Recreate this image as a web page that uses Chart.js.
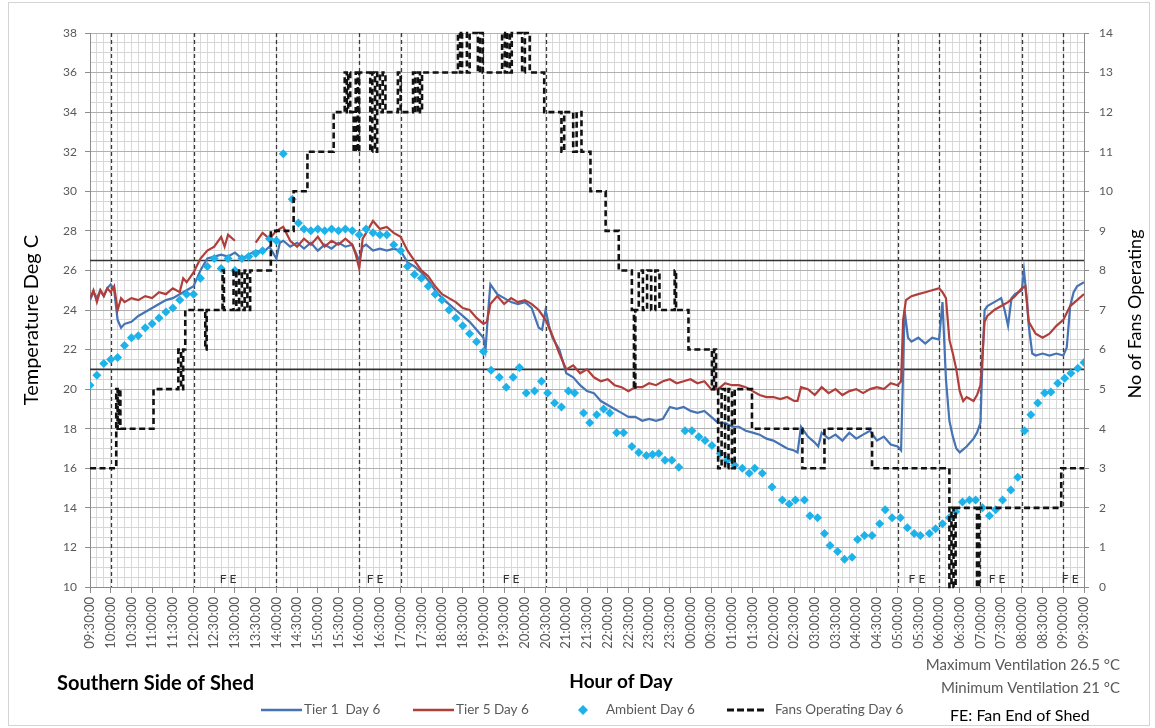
<!DOCTYPE html>
<html><head><meta charset="utf-8">
<script src="https://cdn.jsdelivr.net/npm/chart.js@4.4.1/dist/chart.umd.min.js"></script>
<style>html,body{margin:0;padding:0;background:#fff;}#wrap{width:1155px;height:728px;}</style>
</head><body><div id="wrap"><canvas id="c" width="1155" height="728"></canvas></div>
<script>
// ---------- DATA ----------
const xTickLabels = ["09:30:00","10:00:00","10:30:00","11:00:00","11:30:00","12:00:00","12:30:00","13:00:00","13:30:00","14:00:00","14:30:00","15:00:00","15:30:00","16:00:00","16:30:00","17:00:00","17:30:00","18:00:00","18:30:00","19:00:00","19:30:00","20:00:00","20:30:00","21:00:00","21:30:00","22:00:00","22:30:00","23:00:00","23:30:00","00:00:00","00:30:00","01:00:00","01:30:00","02:00:00","02:30:00","03:00:00","03:30:00","04:00:00","04:30:00","05:00:00","05:30:00","06:00:00","06:30:00","07:00:00","07:30:00","08:00:00","08:30:00","09:00:00","09:30:00"];
const leftTicks = [10,12,14,16,18,20,22,24,26,28,30,32,34,36,38];
const rightTicks = [0,1,2,3,4,5,6,7,8,9,10,11,12,13,14];
const ventMax = 26.5;
const ventMin = 21;
const markerTimes = ["10:00","12:00","14:00","16:00","17:00","19:00","20:30","05:00","06:00","07:00","08:00","09:00"];
const feTimes = ["12:50","16:23","19:40","05:28","07:24","09:10"];

const tier1 = [["09:30",24.5],["09:35",24.9],["09:40",24.6],["09:45",25.0],["09:50",24.7],["09:55",25.1],["10:00",25.3],["10:05",25.0],["10:10",23.5],["10:15",23.1],["10:20",23.3],["10:30",23.4],["10:40",23.7],["10:50",23.9],["11:00",24.1],["11:10",24.3],["11:20",24.5],["11:30",24.6],["11:40",24.8],["11:50",25.0],["12:00",25.2],["12:10",26.0],["12:20",26.6],["12:30",26.7],["12:40",26.8],["12:50",26.7],["13:00",26.9],["13:10",26.6],["13:20",26.8],["13:30",27.0],["13:40",26.9],["13:50",27.2],["14:00",26.6],["14:05",27.4],["14:10",27.5],["14:20",27.2],["14:30",27.4],["14:40",27.1],["14:50",27.4],["15:00",27.0],["15:10",27.3],["15:20",27.1],["15:30",27.4],["15:40",27.2],["15:50",27.3],["15:55",26.9],["16:00",26.5],["16:05",27.2],["16:10",27.3],["16:20",27.0],["16:30",27.1],["16:40",27.0],["16:50",27.1],["17:00",27.0],["17:10",26.4],["17:20",26.2],["17:30",25.9],["17:40",25.5],["17:50",25.0],["18:00",24.6],["18:10",24.3],["18:20",24.0],["18:30",23.7],["18:40",23.4],["18:50",23.0],["19:00",22.6],["19:03",22.0],["19:07",24.0],["19:10",25.3],["19:20",24.8],["19:30",24.6],["19:40",24.4],["19:50",24.3],["20:00",24.4],["20:10",24.1],["20:20",23.1],["20:25",23.0],["20:30",24.0],["20:35",23.2],["20:40",22.6],["20:50",22.0],["21:00",20.8],["21:10",20.6],["21:20",20.2],["21:30",19.9],["21:40",19.8],["21:50",19.4],["22:00",19.2],["22:10",19.0],["22:20",18.8],["22:30",18.6],["22:40",18.6],["22:50",18.4],["23:00",18.5],["23:10",18.4],["23:20",18.5],["23:30",19.1],["23:40",19.0],["23:50",19.1],["00:00",18.9],["00:10",18.8],["00:20",18.9],["00:30",18.6],["00:40",18.3],["00:50",18.3],["01:00",18.1],["01:10",18.1],["01:20",17.9],["01:30",17.8],["01:40",17.7],["01:50",17.5],["02:00",17.4],["02:10",17.2],["02:20",17.0],["02:30",16.9],["02:35",16.8],["02:40",18.1],["02:50",17.6],["03:00",17.3],["03:05",17.1],["03:10",17.8],["03:20",17.5],["03:30",17.7],["03:40",17.4],["03:50",17.8],["04:00",17.5],["04:10",17.7],["04:20",17.9],["04:30",17.4],["04:40",17.6],["04:50",17.2],["05:00",17.1],["05:05",16.9],["05:08",21.0],["05:10",24.0],["05:15",22.6],["05:20",22.4],["05:30",22.6],["05:40",22.3],["05:50",22.6],["06:00",22.5],["06:05",24.4],["06:10",20.5],["06:15",18.4],["06:20",17.6],["06:25",17.0],["06:30",16.8],["06:40",17.1],["06:50",17.5],["06:55",17.8],["07:00",18.3],["07:03",21.5],["07:06",24.0],["07:10",24.2],["07:20",24.4],["07:30",24.6],["07:35",24.0],["07:40",23.2],["07:45",24.6],["07:50",24.8],["08:00",25.0],["08:03",26.0],["08:07",24.6],["08:10",23.2],["08:15",21.8],["08:20",21.7],["08:30",21.8],["08:40",21.7],["08:50",21.8],["09:00",21.7],["09:05",22.1],["09:10",24.2],["09:15",24.9],["09:20",25.2],["09:30",25.4]];

const tier5 = [["09:30",24.6],["09:35",25.0],["09:40",24.4],["09:45",25.0],["09:50",24.7],["09:55",25.1],["10:00",24.9],["10:05",25.2],["10:10",24.0],["10:15",24.6],["10:20",24.4],["10:30",24.6],["10:40",24.5],["10:50",24.7],["11:00",24.6],["11:10",24.9],["11:20",24.8],["11:30",25.1],["11:40",24.9],["11:45",25.6],["11:50",25.4],["12:00",25.9],["12:10",26.6],["12:20",27.0],["12:30",27.2],["12:40",27.7],["12:45",27.2],["12:50",27.8],["13:00",27.5],["13:10",null],["13:20",null],["13:30",27.4],["13:40",27.9],["13:50",27.6],["14:00",28.0],["14:10",28.2],["14:20",27.5],["14:30",27.2],["14:40",27.6],["14:50",27.3],["15:00",27.7],["15:10",27.2],["15:20",27.5],["15:30",27.3],["15:40",27.6],["15:50",27.3],["15:55",26.8],["16:00",26.1],["16:05",27.6],["16:10",27.9],["16:20",28.5],["16:30",28.1],["16:40",28.2],["16:50",27.9],["17:00",27.7],["17:10",27.0],["17:20",26.5],["17:30",26.0],["17:40",25.7],["17:50",25.2],["18:00",24.8],["18:10",24.6],["18:20",24.4],["18:30",24.1],["18:40",24.0],["18:50",23.6],["19:00",23.3],["19:05",23.4],["19:10",24.3],["19:20",24.7],["19:30",24.3],["19:40",24.6],["19:50",24.4],["20:00",24.5],["20:10",24.3],["20:20",24.0],["20:30",23.5],["20:40",22.7],["20:50",21.8],["21:00",21.0],["21:10",21.2],["21:20",20.8],["21:30",21.0],["21:40",20.6],["21:50",20.4],["22:00",20.5],["22:10",20.2],["22:20",20.1],["22:30",19.9],["22:40",20.1],["22:50",20.1],["23:00",20.3],["23:10",20.2],["23:20",20.4],["23:30",20.5],["23:40",20.3],["23:50",20.4],["00:00",20.5],["00:10",20.3],["00:20",20.4],["00:30",20.0],["00:40",20.0],["00:50",20.3],["01:00",20.2],["01:10",20.2],["01:20",20.1],["01:30",19.9],["01:40",19.7],["01:50",19.6],["02:00",19.6],["02:10",19.5],["02:20",19.6],["02:30",19.4],["02:35",19.4],["02:40",20.1],["02:50",20.0],["03:00",19.7],["03:10",20.1],["03:20",19.8],["03:30",20.0],["03:40",19.7],["03:50",19.9],["04:00",20.0],["04:10",19.8],["04:20",20.0],["04:30",20.1],["04:40",20.0],["04:50",20.3],["05:00",20.2],["05:05",20.4],["05:08",23.5],["05:12",24.5],["05:20",24.7],["05:30",24.8],["05:40",24.9],["05:50",25.0],["06:00",25.1],["06:05",24.9],["06:10",24.6],["06:15",22.5],["06:20",21.8],["06:25",21.0],["06:30",19.9],["06:35",19.4],["06:40",19.6],["06:50",19.4],["06:55",19.7],["07:00",20.2],["07:03",21.8],["07:06",23.4],["07:10",23.7],["07:20",24.0],["07:30",24.2],["07:40",24.4],["07:50",24.7],["08:00",25.1],["08:05",25.2],["08:10",23.4],["08:20",22.8],["08:30",22.6],["08:40",22.8],["08:50",23.2],["09:00",23.5],["09:10",24.2],["09:20",24.5],["09:30",24.8]];

const ambient = [["09:30",20.2],["09:40",20.7],["09:50",21.3],["10:00",21.5],["10:10",21.6],["10:20",22.2],["10:30",22.6],["10:40",22.7],["10:50",23.1],["11:00",23.3],["11:10",23.6],["11:20",23.9],["11:30",24.1],["11:40",24.5],["11:50",24.8],["12:00",24.8],["12:10",25.6],["12:20",26.2],["12:30",26.6],["12:40",26.1],["12:50",26.6],["13:00",26.0],["13:10",26.6],["13:20",26.7],["13:30",26.85],["13:40",27.0],["13:50",27.6],["14:00",27.5],["14:10",31.9],["14:23",29.6],["14:32",28.4],["14:40",28.1],["14:50",28.0],["15:00",28.1],["15:10",28.0],["15:20",28.1],["15:30",28.0],["15:40",28.1],["15:50",28.0],["16:00",27.8],["16:10",28.1],["16:20",27.9],["16:30",27.8],["16:40",27.8],["16:50",27.3],["17:00",27.0],["17:10",26.2],["17:20",25.8],["17:30",25.6],["17:40",25.2],["17:50",24.8],["18:00",24.5],["18:10",24.0],["18:20",23.6],["18:30",23.2],["18:40",22.8],["18:50",22.4],["19:00",21.9],["19:11",20.95],["19:23",20.6],["19:33",20.1],["19:43",20.6],["19:52",21.1],["20:02",19.8],["20:14",19.9],["20:24",20.4],["20:33",19.8],["20:43",19.3],["20:53",19.1],["21:03",19.9],["21:12",19.8],["21:25",18.8],["21:34",18.3],["21:44",18.7],["21:54",19.0],["22:03",18.8],["22:13",17.8],["22:23",17.8],["22:35",17.1],["22:45",16.8],["22:56",16.65],["23:05",16.7],["23:14",16.75],["23:23",16.4],["23:33",16.4],["23:43",16.05],["23:52",17.9],["00:02",17.9],["00:12",17.6],["00:21",17.4],["00:31",17.15],["00:43",16.75],["00:53",16.4],["01:04",16.15],["01:15",16.0],["01:25",15.75],["01:33",16.0],["01:44",15.75],["01:58",15.05],["02:13",14.4],["02:23",14.2],["02:32",14.4],["02:45",14.4],["02:53",13.6],["03:04",13.5],["03:14",12.7],["03:22",12.1],["03:33",11.8],["03:43",11.4],["03:54",11.5],["04:02",12.4],["04:12",12.6],["04:23",12.6],["04:34",13.2],["04:42",13.9],["04:52",13.5],["05:04",13.5],["05:14",13.0],["05:24",12.7],["05:33",12.6],["05:46",12.7],["05:55",12.95],["06:05",13.2],["06:15",13.5],["06:24",13.8],["06:34",14.3],["06:44",14.4],["06:53",14.4],["07:03",14.0],["07:13",13.6],["07:22",13.9],["07:32",14.4],["07:44",14.9],["07:54",15.55],["08:04",17.9],["08:13",18.7],["08:23",19.3],["08:33",19.8],["08:42",19.85],["08:52",20.3],["09:02",20.55],["09:11",20.8],["09:21",21.05],["09:30",21.35]];

const fans = [["09:30",3],["10:08",5],["10:10",4],["10:12",5],["10:14",4],["11:02",5],["11:38",6],["11:42",5],["11:45",6],["11:48",7],["12:17",6],["12:19",7],["12:42",8],["12:44",7],["12:58",8],["13:02",7],["13:06",8],["13:10",7],["13:14",8],["13:18",7],["13:22",8],["13:52",9],["14:25",10],["14:45",11],["15:23",12],["15:39",13],["15:42",12],["15:44",13],["15:47",12],["15:52",11],["15:55",13],["15:58",11],["16:00",13],["16:16",11],["16:19",13],["16:23",11],["16:26",13],["16:30",12],["16:34",13],["16:38",12],["16:56",13],["17:00",12],["17:18",13],["17:21",12],["17:25",13],["17:28",12],["17:31",13],["18:23",14],["18:26",13],["18:29",14],["18:36",13],["18:40",14],["18:52",13],["18:55",14],["18:59",13],["19:27",14],["19:31",13],["19:34",14],["19:38",13],["19:41",14],["19:56",13],["20:00",14],["20:07",13],["20:28",12],["20:53",11],["20:57",12],["21:10",11],["21:15",12],["21:22",11],["21:35",10],["21:57",9],["22:16",8],["22:35",7],["22:38",5],["22:40",7],["22:45",8],["22:51",7],["22:57",8],["23:03",7],["23:09",8],["23:15",7],["23:37",8],["23:39",7],["23:57",6],["00:31",5],["00:34",6],["00:37",5],["00:40",3],["00:45",5],["00:50",3],["00:55",5],["01:00",3],["01:04",5],["01:29",4],["02:42",3],["03:14",4],["04:23",3],["06:15",0],["06:18",2],["06:21",0],["06:24",2],["06:55",0],["06:58",2],["08:57",3],["09:30",3]];

// ---------- helpers ----------
function seqMinutes(list){
  let prev = -1; const out = [];
  for (const s of list){
    const p = s.split(':').map(Number);
    let v = p[0]*60 + p[1] - 570;
    if (v < 0) v += 1440;
    if (v < prev) v += 1440;
    prev = v; out.push(v);
  }
  return out;
}
function toPoints(pairs){
  const mins = seqMinutes(pairs.map(p => p[0]));
  return pairs.map((p, i) => ({x: mins[i], y: p[1]}));
}

const FONT = 'Lato, "Open Sans", "DejaVu Sans", sans-serif';
Chart.defaults.font.family = FONT;

const C_T1 = '#4673b3', C_T5 = '#b03f3b', C_AMB = '#1db3ea', C_FAN = '#111111';

const overlay = {
  id: 'overlay',
  beforeDatasetsDraw(chart){
    const {ctx, chartArea: a, scales} = chart;
    const x = scales.x, y = scales.y;
    ctx.save();
    ctx.strokeStyle = '#3a3a3a'; ctx.lineWidth = 1.3; ctx.setLineDash([4,3]);
    seqMinutes(markerTimes).forEach(t => {
      const px = Math.round(x.getPixelForValue(t)) + 0.5;
      ctx.beginPath(); ctx.moveTo(px, a.top); ctx.lineTo(px, a.bottom); ctx.stroke();
    });
    ctx.setLineDash([]); ctx.strokeStyle = '#333'; ctx.lineWidth = 1.6;
    [ventMax, ventMin].forEach(v => {
      const py = y.getPixelForValue(v);
      ctx.beginPath(); ctx.moveTo(a.left, py); ctx.lineTo(a.right, py); ctx.stroke();
    });
    ctx.fillStyle = '#333'; ctx.font = '12px ' + FONT; ctx.textAlign = 'center'; ctx.textBaseline = 'middle';
    seqMinutes(feTimes).forEach(t => { ctx.fillText('F E', x.getPixelForValue(t), a.bottom - 8); });
    ctx.restore();
  },
  afterDraw(chart){
    const ctx = chart.ctx;
    ctx.save();
    ctx.strokeStyle = '#d4d4d4'; ctx.lineWidth = 1;
    ctx.strokeRect(8.5, 2.5, 1141, 723);
    ctx.fillStyle = '#000'; ctx.textAlign = 'center'; ctx.textBaseline = 'middle';
    ctx.font = '20px ' + FONT;
    ctx.save(); ctx.translate(32, 320); ctx.rotate(-Math.PI/2); ctx.fillText('Temperature Deg C', 0, 0); ctx.restore();
    ctx.font = '18px ' + FONT;
    ctx.save(); ctx.translate(1135, 314); ctx.rotate(-Math.PI/2); ctx.fillText('No of Fans Operating', 0, 0); ctx.restore();
    ctx.font = 'bold 20px ' + FONT;
    ctx.textAlign = 'left'; ctx.fillText('Southern Side of Shed', 57, 684);
    ctx.font = 'bold 19px ' + FONT;
    ctx.textAlign = 'center'; ctx.fillText('Hour of Day', 621, 682);
    ctx.fillStyle = '#595959'; ctx.font = '15px ' + FONT; ctx.textAlign = 'right';
    ctx.fillText('Maximum Ventilation 26.5 \u00B0C', 1120, 665);
    ctx.fillText('Minimum Ventilation 21 \u00B0C', 1120, 688);
    const ly = 710;
    ctx.font = '13.5px ' + FONT; ctx.textAlign = 'left'; ctx.fillStyle = '#595959';
    const seg = (x0, x1, col, w, dash) => { ctx.save(); ctx.strokeStyle = col; ctx.lineWidth = w; ctx.setLineDash(dash); ctx.beginPath(); ctx.moveTo(x0, ly); ctx.lineTo(x1, ly); ctx.stroke(); ctx.restore(); };
    seg(261, 302, C_T1, 2.5, []); ctx.fillText('Tier 1  Day 6', 304, ly);
    seg(413, 454, C_T5, 2.5, []); ctx.fillText('Tier 5 Day 6', 456, ly);
    ctx.save(); ctx.fillStyle = C_AMB; ctx.beginPath(); ctx.moveTo(583, ly-5); ctx.lineTo(588, ly); ctx.lineTo(583, ly+5); ctx.lineTo(578, ly); ctx.closePath(); ctx.fill(); ctx.restore();
    ctx.fillText('Ambient Day 6', 606, ly);
    seg(727, 765, C_FAN, 3, [7,3]); ctx.fillText('Fans Operating Day 6', 775, ly);
    ctx.fillStyle = '#000'; ctx.font = '16px ' + FONT; ctx.fillText('FE: Fan End of Shed', 950, 716);
    ctx.restore();
  }
};

new Chart(document.getElementById('c'), {
  type: 'line',
  data: {
    datasets: [
      { label: 'Fans Operating Day 6', yAxisID: 'y2', data: toPoints(fans), stepped: true,
        borderColor: C_FAN, borderWidth: 2.6, borderDash: [6,3.5], pointRadius: 0, fill: false, clip: false },
      { label: 'Ambient Day 6', yAxisID: 'y', data: toPoints(ambient), showLine: false,
        pointStyle: 'rectRot', pointRadius: 4.5, backgroundColor: C_AMB, borderColor: C_AMB, borderWidth: 0 },
      { label: 'Tier 5 Day 6', yAxisID: 'y', data: toPoints(tier5), borderColor: C_T5, borderWidth: 2.2,
        pointRadius: 0, spanGaps: false, fill: false },
      { label: 'Tier 1  Day 6', yAxisID: 'y', data: toPoints(tier1), borderColor: C_T1, borderWidth: 2.2,
        pointRadius: 0, fill: false }
    ]
  },
  options: {
    responsive: false, animation: false,
    layout: { padding: { top: 33, left: 0, right: 0, bottom: 0 } },
    plugins: { legend: { display: false }, tooltip: { enabled: false } },
    elements: { line: { tension: 0 } },
    scales: {
      x: {
        type: 'linear', min: 0, max: 1440,
        afterFit(s){ s.height = 141; },
        afterBuildTicks(s){ const t = []; for (let v = 0; v <= 1440; v += 10) t.push({value: v}); s.ticks = t; },
        ticks: { autoSkip: false, minRotation: 90, maxRotation: 90, color: '#595959', font: { size: 13 }, padding: 4,
          callback(v){ return v % 30 === 0 ? xTickLabels[v / 30] : ''; } },
        grid: { color: '#d9d9d9', lineWidth: 1, tickLength: 6,
          tickColor: c => (c.tick && c.tick.value % 30 === 0) ? '#8c8c8c' : 'rgba(0,0,0,0)' },
        border: { color: '#8c8c8c' }
      },
      y: {
        position: 'left', min: 10, max: 38,
        afterFit(s){ s.width = 90; },
        afterBuildTicks(s){ const t = []; for (let v = 10; v <= 38; v += 0.5) t.push({value: v}); s.ticks = t; },
        ticks: { autoSkip: false, color: '#595959', font: { size: 12 }, padding: 8,
          callback(v){ return leftTicks.includes(v) ? String(v) : ''; } },
        grid: { color: c => (c.tick && leftTicks.includes(c.tick.value)) ? '#b0b0b0' : '#d6d6d6', tickLength: 5,
          tickColor: c => (c.tick && leftTicks.includes(c.tick.value)) ? '#8c8c8c' : 'rgba(0,0,0,0)' },
        border: { color: '#8c8c8c' }
      },
      y2: {
        position: 'right', min: 0, max: 14,
        afterFit(s){ s.width = 71; },
        afterBuildTicks(s){ s.ticks = rightTicks.map(v => ({value: v})); },
        ticks: { autoSkip: false, color: '#595959', font: { size: 12 }, padding: 10,
          callback(v){ return String(v); } },
        grid: { drawOnChartArea: false, tickLength: 5, color: '#8c8c8c' },
        border: { color: '#8c8c8c' }
      }
    }
  },
  plugins: [overlay]
});
</script></body></html>
